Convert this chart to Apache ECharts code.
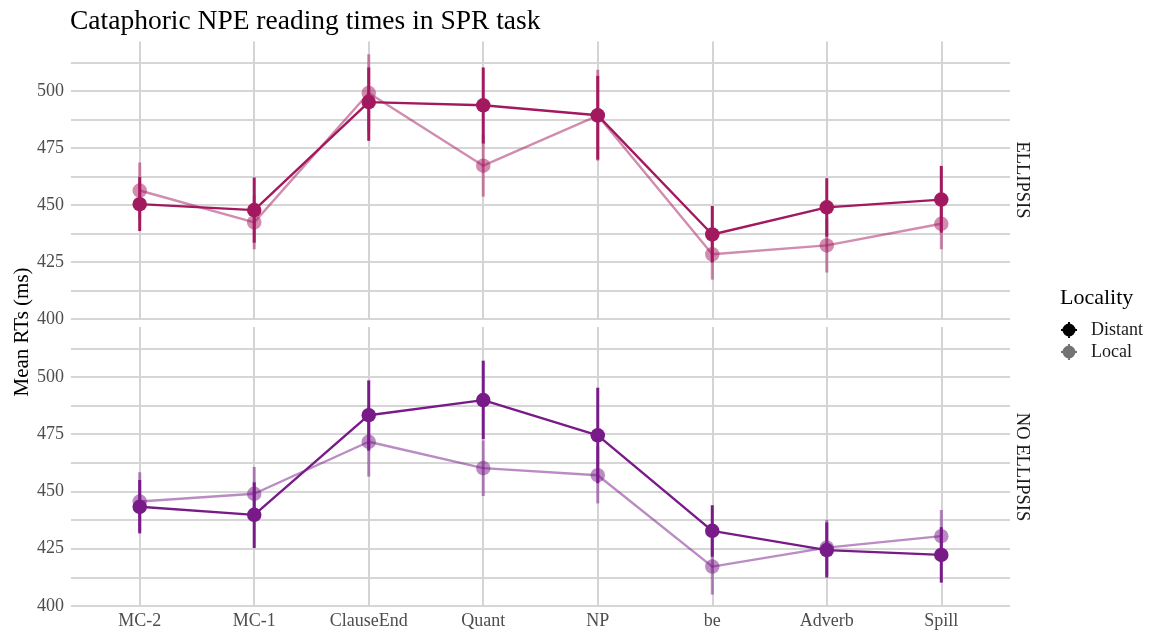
<!DOCTYPE html>
<html>
<head>
<meta charset="utf-8">
<script src="https://cdn.jsdelivr.net/npm/echarts@6/dist/echarts.min.js"></script>
<style>html,body{margin:0;padding:0;background:#fff;}#c{width:1154px;height:632px;}</style>
</head>
<body>
<div id="c"></div>
<script>
const categories = ['MC-2','MC-1','ClauseEnd','Quant','NP','be','Adverb','Spill'];
const yTicks = [400,425,450,475,500];

// ELLIPSIS panel
const ellDistantMean = [450.4, 447.8, 495.2, 493.8, 489.4, 437.1, 449.0, 452.4];
const ellDistantLow  = [438.6, 433.5, 478.2, 477.0, 470.0, 424.8, 436.1, 437.9];
const ellDistantHigh = [462.3, 462.1, 510.4, 510.4, 506.7, 449.6, 461.8, 467.2];
const ellLocalMean   = [456.4, 442.4, 499.2, 467.3, 489.3, 428.4, 432.3, 441.8];
const ellLocalLow    = [444.0, 430.6, 482.4, 453.7, 469.5, 417.3, 420.4, 430.6];
const ellLocalHigh   = [468.7, 454.2, 516.2, 480.9, 509.4, 439.6, 444.2, 453.0];

// NO ELLIPSIS panel
const noDistantMean = [443.3, 439.8, 483.3, 489.9, 474.5, 432.8, 424.4, 422.3];
const noDistantLow  = [431.7, 425.3, 467.8, 472.8, 453.6, 421.5, 412.4, 410.2];
const noDistantHigh = [455.0, 454.0, 498.5, 507.1, 495.3, 444.0, 436.5, 434.4];
const noLocalMean   = [445.6, 449.0, 471.7, 460.2, 457.1, 417.2, 425.5, 430.5];
const noLocalLow    = [432.8, 437.3, 456.5, 448.0, 444.8, 405.0, 413.4, 419.2];
const noLocalHigh   = [458.4, 460.7, 486.9, 472.3, 469.6, 429.4, 437.6, 441.9];

const colEll = '#A3195F';
const colNo = '#781A87';
const yMin = 400, yMax = 521.8;
const serif = '"Liberation Serif", "DejaVu Serif", serif';
const legendIcon = 'path://M1.5,8A6.5,6.5 0 1 1 14.5,8A6.5,6.5 0 1 1 1.5,8ZM7,0h2v16h-2ZM0,7h16v2h-16Z';

function pts(arr){ return arr.map((v,i)=>[i,v]); }
function bars(lo,hi){ return lo.map((v,i)=>[i,v,hi[i]]); }

function errSeries(lo,hi,color,opacity,axisIdx,z){
  return {
    type:'custom', xAxisIndex:axisIdx, yAxisIndex:axisIdx, z:z, silent:true,
    encode:{x:0,y:[1,2]},
    data:bars(lo,hi),
    renderItem:function(params,api){
      const x = api.value(0);
      const a = api.coord([x, api.value(1)]);
      const b = api.coord([x, api.value(2)]);
      return {type:'line', shape:{x1:a[0],y1:a[1],x2:b[0],y2:b[1]},
        style:{stroke:color, lineWidth:3, opacity:opacity}};
    }
  };
}
function lineSeries(mean,color,opacity,axisIdx,z){
  return {
    type:'line', xAxisIndex:axisIdx, yAxisIndex:axisIdx, z:z, silent:true,
    data:pts(mean), symbol:'circle', symbolSize:14.5,
    lineStyle:{color:color, width:2.4, opacity:opacity},
    itemStyle:{color:color, opacity:opacity},
    emphasis:{disabled:true}, animation:false
  };
}

function xAxisDef(idx, showLabels){
  return {
    type:'value', gridIndex:idx, min:-0.6, max:7.6,
    axisLine:{show:false},
    axisTick:{show:false, customValues:[0,1,2,3,4,5,6,7]},
    axisLabel:{show:showLabels, customValues:[0,1,2,3,4,5,6,7],
      formatter:function(v){ return categories[Math.round(v)] || ''; },
      color:'#4d4d4d', fontSize:18, fontFamily:serif, margin:6},
    splitLine:{show:true, lineStyle:{color:'#d4d4d4', width:2}}
  };
}
function yAxisDef(idx){
  return {
    type:'value', gridIndex:idx, min:yMin, max:yMax, interval:12.5,
    axisLine:{show:false}, axisTick:{show:false},
    axisLabel:{color:'#4d4d4d', fontSize:18, fontFamily:serif, margin:7,
      showMaxLabel:false,
      formatter:function(v){ return yTicks.indexOf(v) >= 0 ? String(v) : ''; }},
    splitLine:{show:true, showMaxLine:false, lineStyle:{color:'#c8c8c8', width:1.5}}
  };
}

const chart = echarts.init(document.getElementById('c'), null, {renderer:'canvas'});
chart.setOption({
  animation:false,
  backgroundColor:'#ffffff',
  title:{text:'Cataphoric NPE reading times in SPR task', left:65, top:3,
    textStyle:{fontFamily:serif, fontSize:27.5, fontWeight:'normal', color:'#000'}},
  grid:[
    {left:71, width:939, top:41.5, height:277.5},
    {left:71, width:939, top:327, height:279}
  ],
  xAxis:[xAxisDef(0,false), xAxisDef(1,true)],
  yAxis:[yAxisDef(0), yAxisDef(1)],
  legend:{
    orient:'vertical', left:1056, top:316, itemGap:4, itemWidth:34, itemHeight:16,
    selectedMode:false, symbolKeepAspect:true,
    textStyle:{fontFamily:serif, fontSize:18, color:'#1a1a1a'},
    data:[
      {name:'Distant', icon:legendIcon},
      {name:'Local', icon:legendIcon}
    ]
  },
  graphic:[
    {type:'text', left:1060, top:287, style:{text:'Locality', font:'22px '+serif, fill:'#000'}},
    {type:'text', x:22, y:332, rotation:Math.PI/2, style:{text:'Mean RTs (ms)', font:'21px '+serif, fill:'#000', align:'center', verticalAlign:'middle'}},
    {type:'text', x:1022, y:180, rotation:-Math.PI/2, style:{text:'ELLIPSIS', font:'18.5px '+serif, fill:'#1a1a1a', align:'center', verticalAlign:'middle'}},
    {type:'text', x:1022, y:467, rotation:-Math.PI/2, style:{text:'NO ELLIPSIS', font:'18.5px '+serif, fill:'#1a1a1a', align:'center', verticalAlign:'middle'}}
  ],
  series:[
    {name:'Distant', type:'line', data:[], itemStyle:{color:'#000'}, lineStyle:{opacity:0}, xAxisIndex:0, yAxisIndex:0},
    {name:'Local', type:'line', data:[], itemStyle:{color:'rgba(0,0,0,0.55)'}, lineStyle:{opacity:0}, xAxisIndex:0, yAxisIndex:0},
    errSeries(ellLocalLow, ellLocalHigh, colEll, 0.5, 0, 2),
    lineSeries(ellLocalMean, colEll, 0.5, 0, 3),
    errSeries(ellDistantLow, ellDistantHigh, colEll, 1, 0, 4),
    lineSeries(ellDistantMean, colEll, 1, 0, 5),
    errSeries(noLocalLow, noLocalHigh, colNo, 0.5, 1, 2),
    lineSeries(noLocalMean, colNo, 0.5, 1, 3),
    errSeries(noDistantLow, noDistantHigh, colNo, 1, 1, 4),
    lineSeries(noDistantMean, colNo, 1, 1, 5)
  ]
});
</script>
</body>
</html>
